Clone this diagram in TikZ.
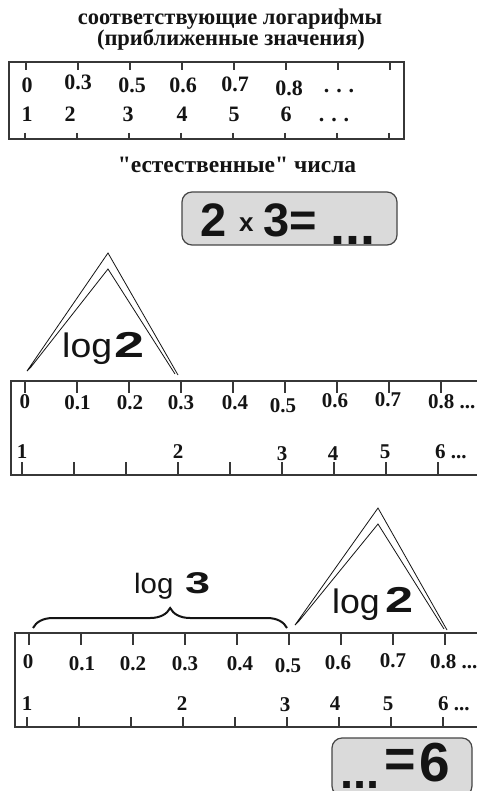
\documentclass[tikz,border=0pt]{standalone}
\usepackage{fontspec}
\setmainfont{Liberation Serif}[Ligatures=TeXOff]
\setsansfont{Liberation Sans}
\usepackage{xcolor}
\usepackage{tikz}
\usetikzlibrary{decorations.pathreplacing}
\definecolor{InkBlack}{RGB}{20,20,20}
\definecolor{RuleGray}{RGB}{55,55,55}
\definecolor{BoxFill}{RGB}{218,218,218}
\definecolor{BoxEdge}{RGB}{70,70,70}

\begin{document}
\begin{tikzpicture}[
  x=1pt, y=-1pt,
  rulerbox/.style={draw=RuleGray, line width=1.4pt},
  tick/.style={draw=RuleGray, line width=1.4pt},
  num/.style={font=\fontsize{21}{24}\selectfont\bfseries, text=InkBlack, anchor=base, inner sep=0pt},
  numw/.style={num, anchor=base west},
  bignum/.style={num, font=\fontsize{22}{25}\selectfont\bfseries},
  head/.style={font=\fontsize{22.5}{26}\selectfont\bfseries, text=InkBlack, anchor=base, inner sep=0pt},
  logtxt/.style={font=\sffamily\fontsize{34}{40}\selectfont, text=InkBlack, anchor=base west, inner sep=0pt},
  lognum/.style={font=\sffamily\bfseries\fontsize{36}{40}\selectfont, text=InkBlack, anchor=base west, inner sep=0pt},
  eqbox/.style={draw=BoxEdge, fill=BoxFill, line width=1.2pt, rounded corners=10pt, inner sep=0pt},
  eqtxt/.style={font=\sffamily\bfseries\fontsize{47}{50}\selectfont, text=InkBlack, anchor=base west, inner sep=0pt},
  twin/.style={draw=InkBlack, line width=0.8pt, line join=miter},
  brace/.style={decorate, decoration={brace, amplitude=20pt, aspect=0.54}, draw=InkBlack, line width=2pt}
]
  \fill[white] (0,0) rectangle (476,791);
  \useasboundingbox (0,0) rectangle (476,791);

  % Headings
  \node[head] (headA) at (230,25) {соответствующие логарифмы};
  \node[head] (headB) at (231,46) {(приближенные значения)};
  \node[head, font=\fontsize{23.5}{27}\selectfont\bfseries] (headC) at (237,173) {"естественные" числа};

  % Ruler 1 (table)
  \draw[rulerbox] (9,62) rectangle (404,139);
  \foreach \x in {26,78,...,390} \draw[tick] (\x,62) -- (\x,70);
  \foreach \x in {25,77,...,389} \draw[tick] (\x,133) -- (\x,139);
  \foreach \x/\y/\t [count=\i] in {27/93/0, 78/90/0.3, 132/93/0.5, 183/93/0.6, 235/92/0.7, 289/96/0.8, 339/93/.\kern7pt.\kern7pt.}
    \node[bignum] (tabL\i) at (\x,\y) {\t};
  \foreach \x/\y/\t [count=\i] in {27/122/1, 70/122/2, 128/122/3, 182/122/4, 234/122/5, 286/122/6, 334/122/.\kern7pt.\kern7pt.}
    \node[bignum] (tabN\i) at (\x,\y) {\t};

  % Product box
  \node[eqbox, minimum width=215pt, minimum height=53pt] (prodbox) at (289.5,218.5) {};
  \node[eqtxt] (prodA) at (200,237) {2};
  \node[eqtxt, font=\sffamily\bfseries\fontsize{26}{30}\selectfont] (prodX) at (239,232) {x};
  \node[eqtxt] (prodB) at (263,237) {3=};
  \node[eqtxt, font=\sffamily\bfseries\fontsize{54}{58}\selectfont] (prodC) at (330,245) {...};

  % Ruler 2
  \draw[rulerbox] (11,381) rectangle (490,475);
  \foreach \x in {25,77,...,441} \draw[tick] (\x,381) -- (\x,393);
  \foreach \x in {22,74,...,438} \draw[tick] (\x,462) -- (\x,475);
  \foreach \x/\y/\t [count=\i] in {25/408/0, 77.5/409/0.1, 130/409/0.2, 181/409/0.3, 235/409/0.4, 283/412/0.5, 335/407/0.6, 388/406/0.7}
    \node[num] (sbL\i) at (\x,\y) {\t};
  \node[numw] (sbL9) at (428,408) {0.8 ...};
  \foreach \x/\y/\t [count=\i] in {22/458/1, 178/458/2, 282/460/3, 333/460/4, 385/458/5}
    \node[num] (sbN\i) at (\x,\y) {\t};
  \node[numw] (sbN6) at (435,458) {6 ...};

  % Triangle over ruler 2
  \coordinate (tAol) at (27,371);
  \coordinate (tAoa) at (108,253);
  \coordinate (tAor) at (178,375);
  \coordinate (tAil) at (31,367);
  \coordinate (tAia) at (108,269);
  \coordinate (tAir) at (175,374);
  \draw[twin] (tAir) -- (tAia) -- (tAil) -- (tAol) -- (tAoa) -- (tAor);
  \node[logtxt] (logA) at (62,357) {\scalebox{1.1}[1]{log}};
  \node[lognum] (logAn) at (114,357) {\scalebox{1.5}[1]{2}};

  % Ruler 3
  \draw[rulerbox] (15,633) rectangle (490,727);
  \foreach \x in {29,81,...,445} \draw[tick] (\x,633) -- (\x,645);
  \foreach \x in {27,79,...,443} \draw[tick] (\x,717) -- (\x,727);
  \foreach \x/\y/\t [count=\i] in {28/668/0, 82/670/0.1, 133/670/0.2, 185/670/0.3, 240/670/0.4, 288/672/0.5, 338/669/0.6, 393/667/0.7}
    \node[num] (scL\i) at (\x,\y) {\t};
  \node[numw] (scL9) at (430,668) {0.8 ...};
  \foreach \x/\y/\t [count=\i] in {27/710/1, 182/710/2, 285/711/3, 335/710/4, 388/710/5}
    \node[num] (scN\i) at (\x,\y) {\t};
  \node[numw] (scN6) at (438,710) {6 ...};

  % Brace for log 3
  \coordinate (braceL) at (33,628);
  \coordinate (braceR) at (287,628);
  \draw[brace] (braceL) -- (braceR);
  \node[logtxt, font=\sffamily\fontsize{28}{32}\selectfont] (logB) at (134,593) {\scalebox{1.05}[1]{log}};
  \node[lognum, font=\sffamily\bfseries\fontsize{30}{34}\selectfont] (logBn) at (185,593) {\scalebox{1.5}[1]{3}};

  % Triangle over ruler 3
  \coordinate (tBol) at (295,625);
  \coordinate (tBoa) at (378,508);
  \coordinate (tBor) at (447,630);
  \coordinate (tBil) at (299,621);
  \coordinate (tBia) at (378,524);
  \coordinate (tBir) at (444,629);
  \draw[twin] (tBir) -- (tBia) -- (tBil) -- (tBol) -- (tBoa) -- (tBor);
  \node[logtxt] (logC) at (332,613) {\scalebox{1.05}[1]{log}};
  \node[lognum] (logCn) at (385,612) {\scalebox{1.4}[1]{2}};

  % Result box
  \node[eqbox, minimum width=140pt, minimum height=58pt] (resbox) at (402,767) {};
  \node[eqtxt] (resA) at (340,788) {...};
  \node[eqtxt, font=\sffamily\bfseries\fontsize{54}{58}\selectfont] (resB) at (384,777) {=};
  \node[eqtxt, font=\sffamily\bfseries\fontsize{55}{58}\selectfont] (resC) at (419,781) {6};
\end{tikzpicture}
\end{document}
